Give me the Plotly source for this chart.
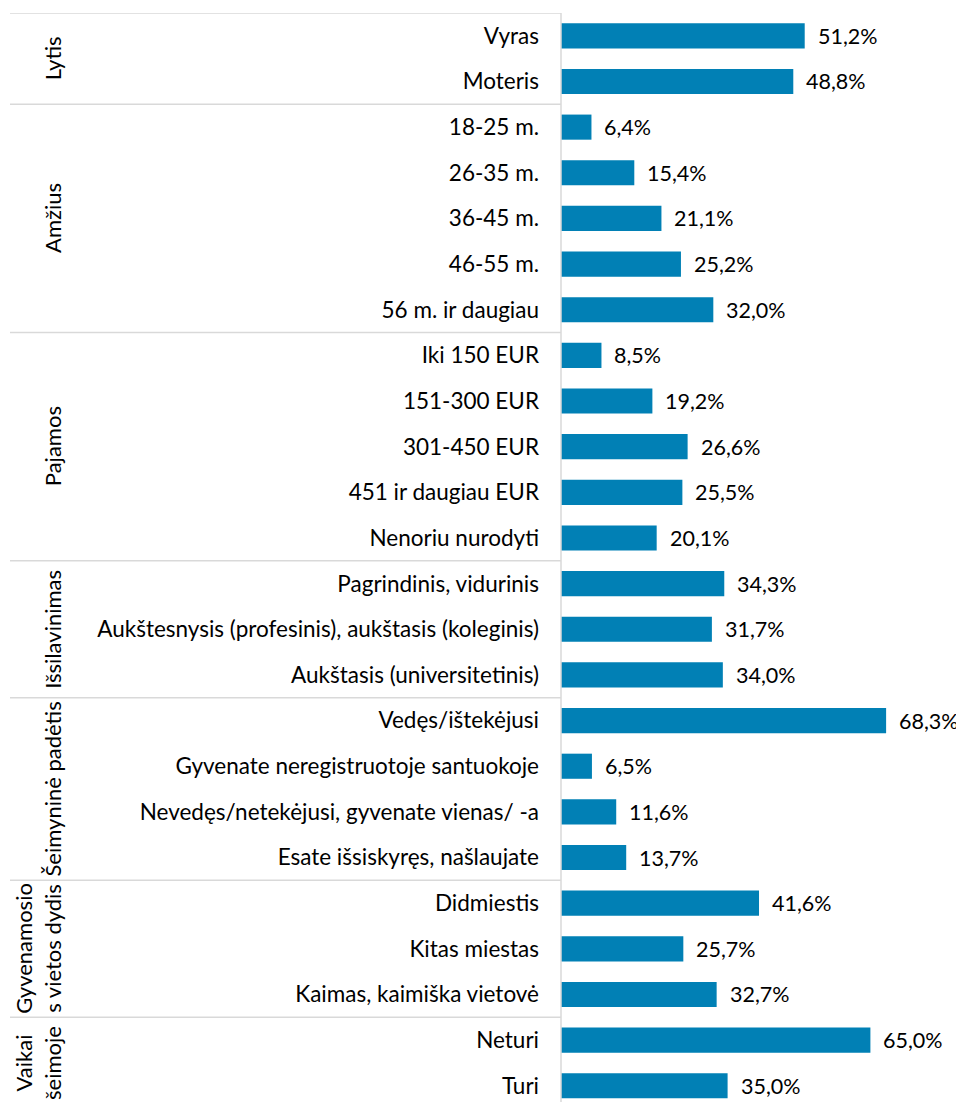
import plotly.graph_objects as go

categories = [
    "Vyras", "Moteris",
    "18-25 m.", "26-35 m.", "36-45 m.", "46-55 m.", "56 m. ir daugiau",
    "Iki 150 EUR", "151-300 EUR", "301-450 EUR", "451 ir daugiau EUR", "Nenoriu nurodyti",
    "Pagrindinis, vidurinis", "Aukštesnysis (profesinis), aukštasis (koleginis)", "Aukštasis (universitetinis)",
    "Vedęs/ištekėjusi", "Gyvenate neregistruotoje santuokoje", "Nevedęs/netekėjusi, gyvenate vienas/ -a", "Esate išsiskyręs, našlaujate",
    "Didmiestis", "Kitas miestas", "Kaimas, kaimiška vietovė",
    "Neturi", "Turi",
]
values = [
    51.2, 48.8,
    6.4, 15.4, 21.1, 25.2, 32.0,
    8.5, 19.2, 26.6, 25.5, 20.1,
    34.3, 31.7, 34.0,
    68.3, 6.5, 11.6, 13.7,
    41.6, 25.7, 32.7,
    65.0, 35.0,
]
group_names = ["Lytis", "Amžius", "Pajamos", "Išsilavinimas", "Šeimyninė padėtis",
               "Gyvenamosio<br>s vietos dydis", "Vaikai<br>šeimoje"]
group_sizes = [2, 5, 5, 3, 4, 3, 2]

OFF = 8                      # page body margin
W, H = 964 - OFF, 1102 - OFF
PLOT_L = 561 - OFF
PLOT_T = 13 - OFF
ROW_H = 45.65
BAR_COLOR = "#0180B5"
LINE_COLOR = "#D9D9D9"
FONT = "Lato"
FS = 22.5
FS_VAL = 21.5

pos = list(range(len(categories)))
labels = [f"{v:.1f}".replace(".", ",") + "%" for v in values]

fig = go.Figure()
fig.add_trace(go.Bar(
    y=pos, x=values, orientation="h",
    marker=dict(color=BAR_COLOR, line=dict(width=0)),
    hoverinfo="skip",
))

px_per_unit = 4.76
x_max = (W - PLOT_L) / px_per_unit
y_bottom = -0.5 + (H - PLOT_T) / ROW_H

def xpaper(page_px):
    return (page_px - OFF - PLOT_L) / (W - PLOT_L)

annotations = []
for p, v, t in zip(pos, values, labels):
    annotations.append(dict(
        x=v, y=p, xref="x", yref="y", text=t, showarrow=False,
        xanchor="left", yanchor="middle", xshift=12, borderpad=0,
        font=dict(family=FONT, size=FS_VAL, color="#000000"),
    ))

shapes = []
start = 0
bounds = [-0.5]
for n in group_sizes:
    start += n
    bounds.append(start - 0.5)
for b in bounds:
    shapes.append(dict(type="line", xref="paper", yref="y",
                       x0=xpaper(10), x1=0, y0=b, y1=b,
                       line=dict(color=LINE_COLOR, width=1.5)))
shapes.append(dict(type="line", xref="paper", yref="y",
                   x0=0, x1=0, y0=-0.5, y1=y_bottom,
                   line=dict(color=LINE_COLOR, width=1.5)))

start = 0
for name, n in zip(group_names, group_sizes):
    center = start - 0.5 + n / 2
    annotations.append(dict(
        x=xpaper(67), y=center, xref="paper", yref="y", text=name,
        showarrow=False, textangle=-90, xanchor="right", yanchor="middle",
        borderpad=0, align="center",
        font=dict(family=FONT, size=22, color="#000000"),
    ))
    start += n

fig.update_layout(
    width=W, height=H,
    margin=dict(l=PLOT_L, r=0, t=PLOT_T, b=0, pad=0),
    paper_bgcolor="white", plot_bgcolor="white",
    bargap=0.45, showlegend=False,
    xaxis=dict(range=[0, x_max], visible=False, fixedrange=True),
    yaxis=dict(range=[y_bottom, -0.5], tickmode="array", tickvals=pos,
               ticktext=categories, showgrid=False, zeroline=False,
               showline=False, ticks="", ticklabelstandoff=21,
               tickfont=dict(family=FONT, size=FS, color="#000000"),
               fixedrange=True),
    annotations=annotations, shapes=shapes,
)

fig.write_html("out.html")
